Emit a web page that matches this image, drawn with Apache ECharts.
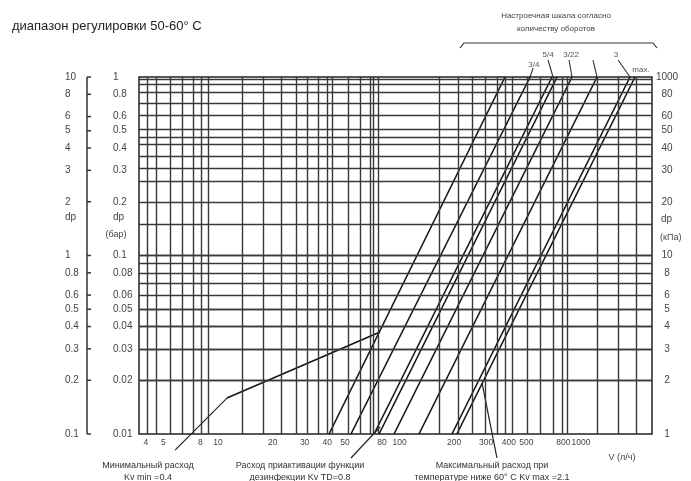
<!DOCTYPE html>
<html><head><meta charset="utf-8">
<script src="https://cdn.jsdelivr.net/npm/echarts@6/dist/echarts.min.js"></script>
<style>html,body{margin:0;padding:0;background:#fff}#c{width:691px;height:481px}</style>
</head><body><div id="c"></div>
<script>
// ---- axis ranges (V in l/h, dp in bar) ----
const V_MIN = 3.67, V_MAX = 2460;
const DP_MIN = 0.01, DP_MAX = 1;

// ---- tick labels ----
const V_TICKS = [4, 5, 8, 10, 20, 30, 40, 50, 80, 100, 200, 300, 400, 500, 800, 1000];
const DP_TICKS = [1, 0.8, 0.6, 0.5, 0.4, 0.3, 0.2, 0.1, 0.08, 0.06, 0.05, 0.04, 0.03, 0.02, 0.01];
const DP_LABELS_MID = ['1', '0.8', '0.6', '0.5', '0.4', '0.3', '0.2', '0.1', '0.08', '0.06', '0.05', '0.04', '0.03', '0.02', '0.01'];
const DP_LABELS_LEFT = ['10', '8', '6', '5', '4', '3', '2', '1', '0.8', '0.6', '0.5', '0.4', '0.3', '0.2', '0.1'];
const DP_LABELS_KPA = ['1000', '80', '60', '50', '40', '30', '20', '10', '8', '6', '5', '4', '3', '2', '1'];

// ---- chart grid lines (as drawn in the original) ----
const GRID_V = [4.1, 4.55, 5.44, 6.33, 7.28, 8.06, 8.81, 13.6, 17.7, 22.2, 26.9, 30.9, 35.6, 39.9, 42.5, 52.0, 60.6, 68.8, 71.4, 76.1,
  165, 210, 251, 296, 344, 381, 417, 504, 594, 701, 785, 837, 1225, 1600, 2009];
const GRID_DP = [0.974, 0.914, 0.824, 0.715, 0.612, 0.505, 0.461, 0.416, 0.356, 0.309, 0.255, 0.1995, 0.152, 0.1033, 0.098, 0.092,
  0.083, 0.072, 0.0608, 0.0514, 0.047, 0.043, 0.0363, 0.0307, 0.0256, 0.0206, 0.0157];

// ---- setting lines: flow V at dp = 0.01 bar and at dp = 1 bar ----
const LINE_V_LOW = [40.9, 54.0, 72.4, 77.1, 93.3, 128, 194.5, 207];
const LINE_V_HIGH = [381, 524, 692, 738, 892, 1225, 1862, 1984];

// ---- minimum flow curve ----
const KVMIN_V = [11.2, 78.1];
const KVMIN_DP = [0.0159, 0.0373];

// ---- annotation pointers ----
const PTR_MIN_V = [5.8, 11.2], PTR_MIN_DP = [0.00813, 0.0159];
const PTR_TD_V = [54.0, 78.1], PTR_TD_DP = [0.00734, 0.01094];
const PTR_MAX_V = [344, 285], PTR_MAX_DP = [0.00734, 0.0193];

// ---- top setting labels and leaders ----
const SET_LABELS = ['3/4', '5/4', '3/22', '3', 'max.'];
const SET_LABEL_V = [550, 658, 881, 1560, 2140];
const SET_LABEL_DP = [1.167, 1.328, 1.328, 1.328, 1.094];
const LEADERS_V = [[544, 524], [658, 701], [859, 892], [1164, 1225], [1600, 1862]];
const LEADERS_DP = [[1.123, 1.0], [1.245, 1.0], [1.245, 1.0], [1.245, 1.0], [1.245, 1.0]];

const FONT = '"Liberation Sans", "DejaVu Sans", sans-serif';
const NARROW = '"Liberation Sans Narrow", "Liberation Sans", sans-serif';

const chart = echarts.init(document.getElementById('c'), null, {renderer: 'canvas'});

function pairs(xs, ys) { return xs.map((x, i) => [x, ys[i]]); }

const series = [];
series.push({
  type: 'line', data: [[10, 0.1]], symbol: 'none', lineStyle: {opacity: 0}, z: 1, silent: true,
  markLine: {
    silent: true, symbol: ['none', 'none'], label: {show: false}, animation: false,
    lineStyle: {color: '#383838', width: 1.4, type: 'solid'},
    data: GRID_V.map(v => ({xAxis: v})).concat(GRID_DP.map(d => ({yAxis: d})))
  }
});
LINE_V_LOW.forEach((v, i) => {
  series.push({type: 'line', data: [[v, DP_MIN], [LINE_V_HIGH[i], DP_MAX]], symbol: 'none', z: 3,
    lineStyle: {color: '#151515', width: 1.6}});
});
series.push({type: 'line', data: pairs(KVMIN_V, KVMIN_DP), symbol: 'none', z: 3, lineStyle: {color: '#151515', width: 1.6}});
[[PTR_MIN_V, PTR_MIN_DP], [PTR_TD_V, PTR_TD_DP], [PTR_MAX_V, PTR_MAX_DP]].forEach(p => {
  series.push({type: 'line', data: pairs(p[0], p[1]), symbol: 'none', clip: false, z: 3, lineStyle: {color: '#222', width: 1.2}});
});
LEADERS_V.forEach((lv, i) => {
  series.push({type: 'line', data: pairs(lv, LEADERS_DP[i]), symbol: 'none', clip: false, z: 3, lineStyle: {color: '#333', width: 1.1}});
});

chart.setOption({
  animation: false,
  backgroundColor: '#fff',
  grid: {left: 139, right: 39, top: 77, bottom: 47, show: true, borderColor: '#222', borderWidth: 1.5, backgroundColor: 'transparent'},
  xAxis: {type: 'log', min: V_MIN, max: V_MAX, axisLine: {show: false}, axisTick: {show: false}, axisLabel: {show: false}, splitLine: {show: false}},
  yAxis: {type: 'log', min: DP_MIN, max: DP_MAX, axisLine: {show: false}, axisTick: {show: false}, axisLabel: {show: false}, splitLine: {show: false}},
  series: series
});

const px = v => chart.convertToPixel({xAxisIndex: 0}, v);
const py = d => chart.convertToPixel({yAxisIndex: 0}, d);
const g = [];
function txt(x, y, text, size, align, color, family) {
  g.push({type: 'text', x: x, y: y, silent: true, z: 10,
    style: {text: text, fontSize: size, fontFamily: family || FONT, fill: color || '#333', align: align || 'left', verticalAlign: 'middle'}});
}
// title
txt(12, 26, 'диапазон регулировки 50-60° C', 13, 'left', '#222', NARROW);
// header with brace
txt(556, 16, 'Настроечная шкала согласно', 8, 'center', '#444', NARROW);
txt(556, 29, 'количеству оборотов', 8, 'center', '#444', NARROW);
g.push({type: 'polyline', silent: true, shape: {points: [[460, 48], [464, 43], [653, 43], [657, 48]]}, style: {stroke: '#333', lineWidth: 1.2, fill: null}});
// setting labels
SET_LABELS.forEach((t, i) => txt(px(SET_LABEL_V[i]), py(SET_LABEL_DP[i]), t, 8, 'center', '#555', NARROW));
// auxiliary left axis
const yTop = py(DP_MAX), yBot = py(DP_MIN);
g.push({type: 'line', silent: true, shape: {x1: 87, y1: yTop, x2: 87, y2: yBot}, style: {stroke: '#333', lineWidth: 1.5}});
DP_TICKS.forEach(d => g.push({type: 'line', silent: true, shape: {x1: 87, y1: py(d), x2: 91, y2: py(d)}, style: {stroke: '#333', lineWidth: 1.5}}));
// y labels
DP_TICKS.forEach((d, i) => {
  txt(65, py(d), DP_LABELS_LEFT[i], 10, 'left', '#444');
  txt(113, py(d), DP_LABELS_MID[i], 10, 'left', '#444');
  txt(667, py(d), DP_LABELS_KPA[i], 10, 'center', '#444');
});
txt(65, 217, 'dp', 10, 'left', '#444');
txt(113, 217, 'dp', 10, 'left', '#444');
txt(116, 235, '(бар)', 9, 'center', '#444');
txt(661, 219, 'dp', 10, 'left', '#444');
txt(660, 238, '(кПа)', 9, 'left', '#444');
// x labels
V_TICKS.forEach(v => txt(px(v), 443, String(v), 8.5, 'center', '#444'));
txt(622, 458, 'V (л/ч)', 9, 'center', '#444');
// annotation texts
txt(148, 466, 'Минимальный расход', 9, 'center', '#333');
txt(148, 478, 'Kv min =0.4', 9, 'center', '#333');
txt(300, 466, 'Расход приактивации функции', 9, 'center', '#333');
txt(300, 478, 'дезинфекции Kv TD=0.8', 9, 'center', '#333');
txt(492, 466, 'Максимальный расход при', 9, 'center', '#333');
txt(492, 478, 'температуре ниже 60° С Kv max =2.1', 9, 'center', '#333');

chart.setOption({graphic: g});
</script></body></html>
